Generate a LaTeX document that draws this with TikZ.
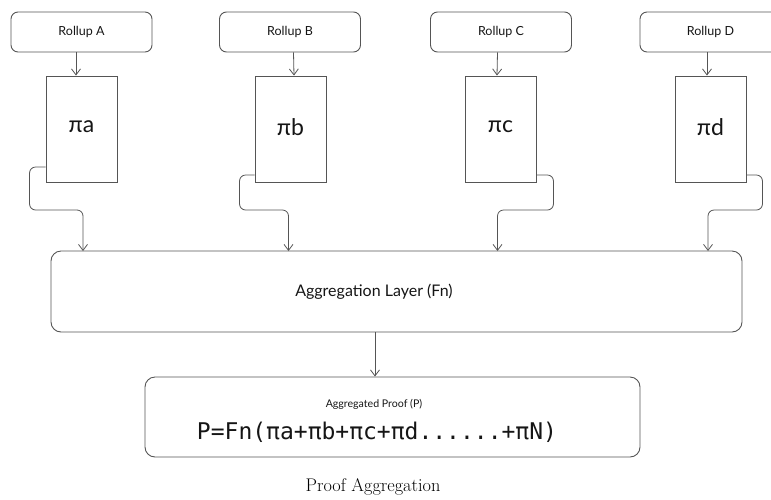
\documentclass[tikz,border=0pt]{standalone}
\usepackage{fontspec}
\newfontfamily\uisans{Lato}
\newfontfamily\uimono{DejaVu Sans Mono}
\usetikzlibrary{arrows.meta}
\definecolor{linegray}{HTML}{555555}
\definecolor{txt}{HTML}{151515}
\tikzset{
  rollbox/.style={draw=linegray, line width=0.9pt, rounded corners=7, minimum width=141, minimum height=40, inner sep=0, font=\uisans\fontsize{12.5}{14}\selectfont, text=txt},
  proofbox/.style={draw=linegray, line width=0.9pt, minimum width=71, minimum height=106, inner sep=0},
  bigbox/.style={draw=linegray, line width=0.9pt, rounded corners=10, inner sep=0},
  pitext/.style={font=\uisans\fontsize{23}{25}\selectfont, text=txt, inner sep=0},
  conn/.style={draw=linegray, line width=0.8pt, rounded corners=6, -{Straight Barb[length=6,width=9]}},
  flow/.style={draw=linegray, line width=0.8pt, -{Straight Barb[length=6,width=9]}}
}
\begin{document}
\begin{tikzpicture}[x=1pt,y=-1pt]
\useasboundingbox (0,0) rectangle (771,499);
\clip (0,0) rectangle (771,499);
% rollups
\node[rollbox] (ra) at (81.5,32) {Rollup A};
\node[rollbox] (rb) at (290,32) {Rollup B};
\node[rollbox] (rc) at (501,32) {Rollup C};
\node[rollbox] (rd) at (710.5,32) {Rollup D};
% proofs
\node[proofbox] (pa) at (81.5,129) {};
\node[proofbox] (pb) at (290.5,129) {};
\node[proofbox] (pc) at (500.5,129) {};
\node[proofbox] (pd) at (710.5,129) {};
\node[pitext] (ta) at (81.5,127) {πa};
\node[pitext] (tb) at (290.5,127) {πb};
\node[pitext] (tc) at (500.5,127) {πc};
\node[pitext] (td) at (710.5,127) {πd};
% aggregation layer
\node[bigbox, minimum width=691, minimum height=81] (agg) at (396.5,291.5) {};
\node[font=\uisans\fontsize{16}{18}\selectfont, text=txt] (aggt) at (374,292) {Aggregation Layer (Fn)};
% aggregated proof
\node[bigbox, minimum width=495, minimum height=80] (ap) at (392.5,417) {};
\node[font=\uisans\fontsize{10.6}{12}\selectfont, text=txt] (apt) at (374,404) {Aggregated Proof (P)};
\node[font=\uimono\fontsize{23}{25}\selectfont, text=txt, inner sep=0] (apf) at (377,432) {P=Fn(πa+πb+πc+πd......+πN)};
% caption
\node[font=\rmfamily\fontsize{18.3}{20}\selectfont, text=black] (cap) at (373,487) {Proof Aggregation};
% rollup -> proof arrows
\draw[flow] ([xshift=-5.5]ra.south) -- ([xshift=-5.5]pa.north);
\draw[flow] ([xshift=3.5]rb.south) -- ([xshift=3.5]pb.north);
\draw[flow] ([xshift=-3.5]rc.south) -- ([xshift=-3.5]pc.north);
\draw[flow] ([xshift=-3.5]rd.south) -- ([xshift=-3.5]pd.north);
% proof -> aggregation connectors
\coordinate (ina) at (83,251);
\coordinate (inb) at (288.5,251);
\coordinate (inc) at (497.5,251);
\coordinate (ind) at (708,251);
\draw[conn] ([yshift=-38]pa.west) -| ++(-16,43) -| (ina);
\draw[conn] ([yshift=-46]pb.west) -| ++(-15,35) -| (inb);
\draw[conn] ([yshift=-46]pc.east) -| ++(17,35) -| (inc);
\draw[conn] ([yshift=-46]pd.east) -| ++(16,35) -| (ind);
% aggregation -> proof
\draw[flow] ([xshift=-21.5]agg.south) -- ([xshift=-17.5]ap.north);
\end{tikzpicture}
\end{document}
